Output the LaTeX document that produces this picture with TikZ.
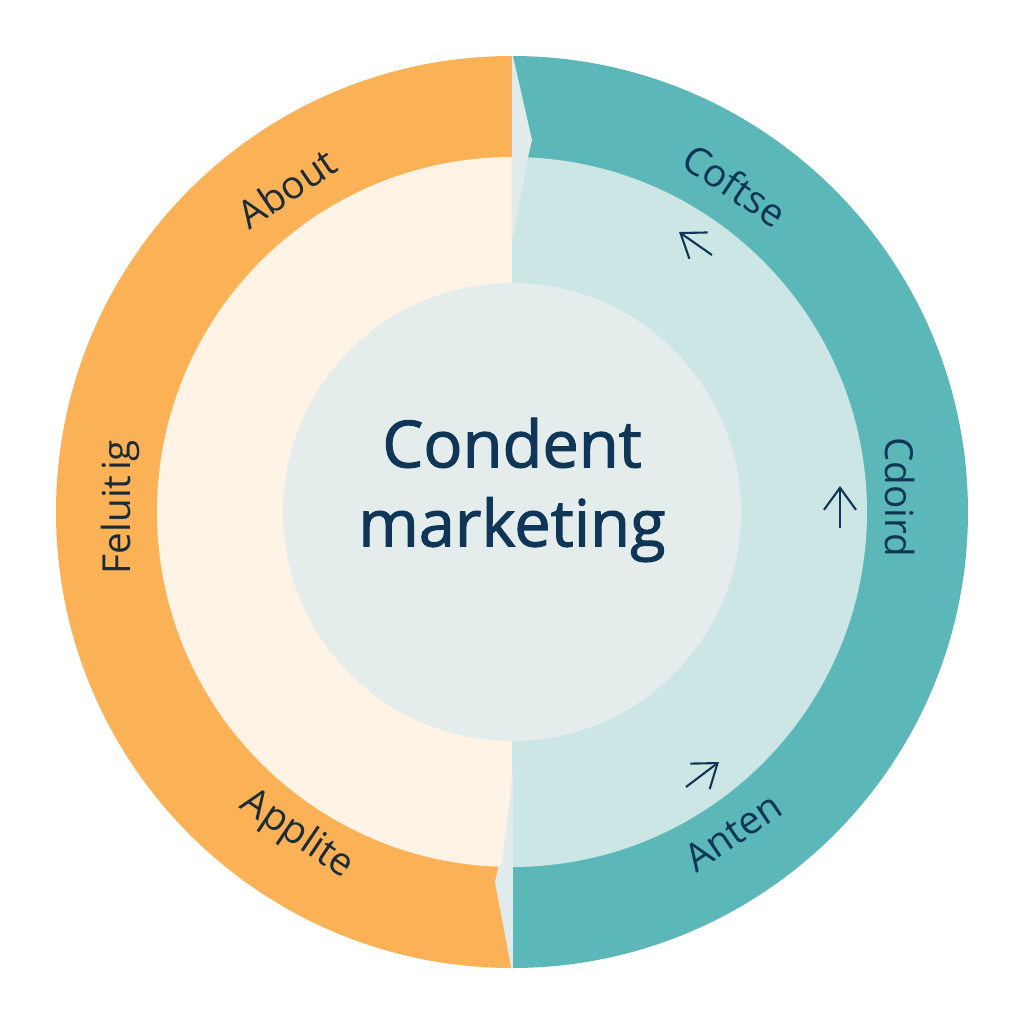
\documentclass[tikz,border=0pt]{standalone}
\usepackage{fontspec}
\setmainfont{Open Sans}
\newfontfamily\hubfont{Open Sans}[FakeBold=1.6]
\usetikzlibrary{arrows.meta}
\definecolor{ringorange}{HTML}{FBB155}
\definecolor{ringteal}{HTML}{5CB8B8}
\definecolor{creamband}{HTML}{FEF3E5}
\definecolor{paleteal}{HTML}{CCE5E5}
\definecolor{hubgray}{HTML}{E5EDEC}
\definecolor{seamgray}{HTML}{E2EBEB}
\definecolor{inkleft}{HTML}{1B2B38}
\definecolor{inkright}{HTML}{0F3557}
\tikzset{
  ringlabel/.style={font=\fontsize{11}{13}\selectfont, inner sep=0pt},
  flowarrow/.style={inkright, line width=0.6pt, -{Straight Barb[length=2.2mm,width=3.2mm]}}
}
\begin{document}
\begin{tikzpicture}
\useasboundingbox (-5.12,-5.12) rectangle (5.12,5.12);
\fill[white] (-5.12,-5.12) rectangle (5.12,5.12);
% outer ring, two halves
\fill[ringorange] (0,4.56) arc (90:270:4.56) -- cycle;
\fill[ringteal] (0,-4.56) arc (-90:90:4.56) -- cycle;
% inner band
\fill[creamband] (0,3.55) arc (90:270:3.55) -- cycle;
\fill[paleteal] (0,-3.55) arc (-90:90:3.55) -- cycle;
% seams where the halves meet
\begin{scope}
  \clip (0,0) circle (4.56);
  \fill[seamgray] (0,4.6) -- (0.2,3.72) -- (0.16,3.55) -- (0.01,2.75) -- (0,2.75) -- cycle;
  \fill[seamgray] (0.01,-2.6) -- (-0.1,-3.51) -- (-0.14,-3.56) -- (-0.17,-3.70) -- (0,-4.6) -- (0.01,-4.6) -- cycle;
\end{scope}
% hub
\node[circle, fill=hubgray, minimum size=4.58cm, inner sep=0pt] (hub) at (0,0) {};
\node[inkright, align=center, font=\fontsize{18.5}{22.5}\selectfont\hubfont] (title) at (0,0.22) {Condent\\marketing};
% ring labels
\node[ringlabel, inkleft, rotate=34] (about) at (-2.25,3.24) {About};
\node[ringlabel, inkright, rotate=-34] (coftse) at (2.23,3.27) {Coftse};
\node[ringlabel, inkleft, rotate=90] (feluit) at (-3.92,0.05) {Feluit\hspace{0.12em}ig};
\node[ringlabel, inkright, rotate=-90] (cdoird) at (3.88,0.15) {Cdoird};
\node[ringlabel, inkleft, rotate=-34] (applite) at (-2.15,-3.23) {Applite};
\node[ringlabel, inkright, rotate=34] (anten) at (2.21,-3.2) {Anten};
% arrows in the pale band
\coordinate (a1s) at (2.00,2.57); \coordinate (a1e) at (1.67,2.80);
\coordinate (a2s) at (3.28,-0.16); \coordinate (a2e) at (3.28,0.26);
\coordinate (a3s) at (1.74,-2.75); \coordinate (a3e) at (2.07,-2.50);
\draw[flowarrow] (a1s) -- (a1e);
\draw[flowarrow] (a2s) -- (a2e);
\draw[flowarrow] (a3s) -- (a3e);
\end{tikzpicture}
\end{document}
